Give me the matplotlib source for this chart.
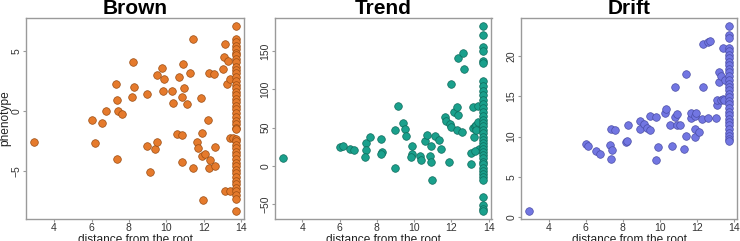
import numpy as np
import matplotlib
matplotlib.use("Agg")
import matplotlib.pyplot as plt
from matplotlib.ticker import MultipleLocator

plt.rcParams['font.family'] = ['Liberation Sans', 'DejaVu Sans']

# depth of the tips (all tips sit at the same distance)
tip_x = 13.72

# Brown: internal nodes
brown_x = [2.93, 6.02, 6.18, 6.57, 6.79, 7.32, 7.37, 7.41, 7.64, 7.37, 8.23, 8.27, 8.16, 8.95, 8.95,
           9.13, 9.39, 9.48, 9.52, 9.79, 9.88, 9.82, 10.29, 10.36, 10.55, 10.68, 10.86, 10.84, 10.89,
           10.96, 11.09, 10.84, 11.29, 11.41, 11.45, 11.64, 11.68, 11.84, 11.91, 11.89, 12.07, 11.95,
           12.25, 12.30, 12.32, 12.30, 12.54, 12.61, 12.61, 13.04, 13.09, 13.11, 13.29, 13.23, 13.39,
           13.13, 13.38, 13.38, 13.59]
brown_y = [-2.61, -0.8, -2.67, -1.03, 0.0, 2.22, 0.86, -0.03, -0.28, -4.0, 4.06, 1.97, 1.14, 1.36, -2.92,
           -5.08, -3.14, -2.61, 2.94, 3.56, 2.64, 1.64, 1.64, 0.67, -1.97, 2.83, -2.0, 1.19, 3.86,
           1.89, 0.56, -4.22, 3.17, -4.75, 5.97, -2.56, -3.08, 1.03, -1.81, -3.75, -3.58, -7.42,
           -0.8, 3.17, -4.11, -4.78, 3.08, -3.0, -4.56, 3.47, 4.47, 5.56, 4.11, 2.25, 2.67,
           -6.64, -6.67, -2.28, -2.28]
brown_tips = [7.08, 5.95, 5.72, 5.38, 5.12, 4.83, 4.61, 4.27, 4.02, 3.68, 3.41, 3.12, 2.79, 2.52, 2.18,
              1.93, 1.58, 1.31, 0.97, 0.72, 0.38, 0.12, -0.21, -0.49, -0.83, -1.08, -1.39, -1.52,
              -2.31, -2.54, -2.83, -3.09, -3.42, -3.71, -3.98, -4.33, -4.58, -4.92, -5.21, -5.47,
              -5.83, -6.08, -6.42, -6.71, -7.02, -7.31, -8.36]

# Trend: internal nodes
trend_x = [2.96, 6.02, 6.18, 6.57, 6.79, 7.39, 7.41, 7.36, 7.64, 8.23, 8.29, 8.21, 8.98, 8.95, 9.14,
           9.41, 9.50, 9.54, 9.91, 9.86, 9.84, 10.30, 10.38, 10.57, 10.71, 10.86, 10.91, 10.91, 10.98,
           11.13, 11.34, 11.45, 11.66, 11.71, 11.88, 11.95, 11.91, 11.95, 12.13, 12.32, 12.34, 12.34,
           12.32, 12.63, 12.68, 12.59, 13.05, 13.05, 13.14, 13.16, 13.20, 13.29, 13.34, 13.41, 13.34,
           13.43, 13.46, 13.29]
trend_y = [10.8, 25.0, 25.9, 22.0, 20.7, 29.7, 20.3, 12.0, 37.9, 34.9, 17.7, 15.0, 47.4, -2.2, 78.4,
           56.0, 47.8, 39.7, 25.9, 15.5, 11.6, 13.4, 7.8, 32.8, 40.5, 13.4, 25.4, 5.2, -18.1,
           39.2, 33.6, 22.0, 63.8, 59.0, 4.7, 106.5, 54.7, 50.4, 70.3, 76.3, 66.0, 140.5,
           47.4, 147.0, 126.3, 44.8, 2.2, 16.8, 76.3, 49.6, 37.9, 51.7, 53.9, 78.0, 47.4,
           57.3, 21.6, 19.4]
trend_tips = [182.7, 170.1, 155.3, 149.8, 137.2, 134.0, 110.4, 104.2, 98.1, 92.6, 86.3, 80.8, 75.1,
              70.4, 64.7, 60.2, 55.9, 51.6, 47.3, 42.8, 38.1, 34.4, 29.7, 26.2, 21.8, 18.3, 13.9,
              10.2, 5.8, 2.1, -2.4, -6.1, -10.3, -14.2, -17.9, -39.8, -50.2, -55.4, -59.0]

# Drift: internal nodes
drift_x = [2.95, 6.00, 6.14, 6.55, 6.77, 7.29, 7.36, 7.39, 7.38, 7.59, 8.16, 8.21, 8.25, 8.91, 8.93,
           9.11, 9.32, 9.48, 9.46, 9.80, 9.77, 9.89, 10.25, 10.34, 10.54, 10.64, 10.82, 10.82, 10.93,
           10.91, 11.09, 11.39, 11.39, 11.27, 11.64, 11.68, 11.88, 11.93, 11.88, 11.86, 12.07, 12.23,
           12.30, 12.30, 12.55, 12.59, 12.66, 13.02, 13.07, 13.07, 13.14, 13.14, 13.25, 13.29, 13.36,
           13.38, 13.46, 13.50]
drift_y = [0.7, 9.13, 8.8, 8.26, 7.88, 9.0, 11.0, 8.38, 7.18, 10.79, 9.38, 9.5, 11.49, 12.0, 10.95,
           11.58, 11.04, 10.87, 12.6, 12.45, 7.14, 8.67, 12.9, 13.4, 11.49, 8.8, 16.18, 12.45, 12.82,
           11.45, 11.49, 17.84, 10.04, 8.42, 12.32, 12.9, 12.6, 12.9, 10.95, 10.0, 10.54, 12.16,
           16.18, 21.49, 12.32, 21.78, 21.87, 12.32, 13.98, 14.52, 18.09, 16.85, 17.55, 14.6, 14.69,
           21.08, 14.6, 17.1]
drift_tips = [23.8, 22.7, 22.3, 21.0, 20.6, 20.2, 19.8, 19.3, 18.9, 18.4, 18.0, 17.5, 17.1, 16.6, 16.2,
              15.8, 15.3, 14.9, 14.4, 14.0, 13.6, 13.1, 12.7, 12.2, 11.8, 11.4, 10.9, 10.5, 10.1,
              9.7, 9.5]

panels = [
    ("Brown", brown_x, brown_y, brown_tips, "#E57A2C", "#9A4C12", 5),
    ("Trend", trend_x, trend_y, trend_tips, "#1AA08C", "#0E6B5C", 50),
    ("Drift", drift_x, drift_y, drift_tips, "#7276E2", "#4A4DA6", 5),
]

W, H = 740, 241
fig = plt.figure(figsize=(W / 100, H / 100), dpi=100)
lefts = [26, 275, 521]
rights = [244, 491.5, 737.3]
top, bottom = 18.3, 218.7

frame_col = "#9a9a9a"
for i, (name, xs, ys, tips, col, ecol, step) in enumerate(panels):
    ax = fig.add_axes([lefts[i] / W, 1 - bottom / H, (rights[i] - lefts[i]) / W, (bottom - top) / H])
    all_x = list(xs) + [tip_x] * len(tips)
    all_y = list(ys) + list(tips)
    ax.scatter(all_x, all_y, s=30, color=col, edgecolors=ecol, linewidths=0.5, zorder=3)
    ax.margins(0.04)
    ax.set_xticks([4, 6, 8, 10, 12, 14])
    ax.yaxis.set_major_locator(MultipleLocator(step))
    for sp in ax.spines.values():
        sp.set_color(frame_col)
        sp.set_linewidth(1.0)
    ax.tick_params(colors="#333333", labelsize=7.5, length=2, color=frame_col, pad=1.2)
    for lab in ax.get_yticklabels():
        lab.set_rotation(90)
        lab.set_va("center")
    ax.set_xlabel("distance from the root", fontsize=8.6, labelpad=0.8, color="#222222")
    if i == 0:
        ax.set_ylabel("phenotype", fontsize=8.6, labelpad=0, color="#222222")
    ax.set_title(name, fontsize=15, fontweight="bold", pad=3)

fig.savefig("out.png", dpi=100)
